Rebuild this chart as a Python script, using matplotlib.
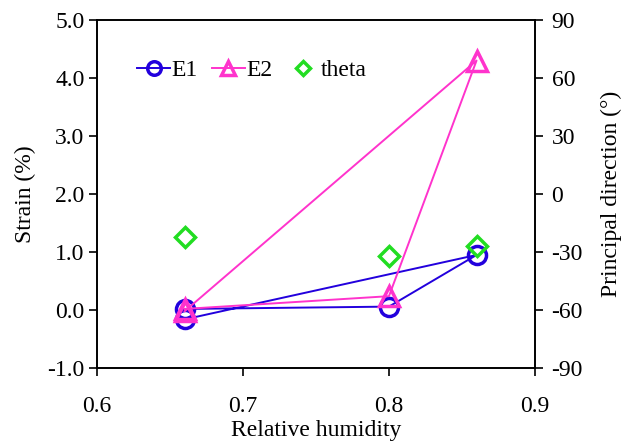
import matplotlib
matplotlib.use("Agg")
import matplotlib.pyplot as plt

plt.rcParams["font.family"] = ["Liberation Serif", "DejaVu Serif"]
plt.rcParams["font.size"] = 17
plt.rcParams["axes.unicode_minus"] = False

# data, in measurement order (0.66 measured twice)
rh = [0.66, 0.80, 0.86, 0.66]
e1 = [0.02, 0.06, 0.95, -0.16]
e2 = [0.02, 0.24, 4.30, -0.02]
rh_theta = [0.66, 0.80, 0.86]
theta = [-22, -32, -27]

BLUE = "#2200dd"
PINK = "#ff33cc"
GREEN = "#22dd22"

fig = plt.figure(figsize=(6.22, 4.43), dpi=100)
ax = fig.add_axes([0.156, 0.169, 0.704, 0.786])
ax2 = ax.twinx()

l1, = ax.plot(rh, e1, color=BLUE, lw=1.4, marker="o", ms=13, mfc="none",
              mew=2.5, label="E1", zorder=3)
l2, = ax.plot(rh, e2, color=PINK, lw=1.4, marker="^", ms=14, mfc="none",
              mew=2.5, label="E2", zorder=4)
l3, = ax2.plot(rh_theta, theta, ls="none", color=GREEN, marker="D", ms=10,
               mfc="none", mew=2.5, label="theta")

ax.set_xlim(0.6, 0.9)
ax.set_ylim(-1.0, 5.0)
ax2.set_ylim(-90, 90)
ax.set_xticks([0.6, 0.7, 0.8, 0.9])
ax.set_xticklabels(["0.6", "0.7", "0.8", "0.9"])
ax.set_yticks([-1, 0, 1, 2, 3, 4, 5])
ax.set_yticklabels([f"{v:.1f}" for v in [-1, 0, 1, 2, 3, 4, 5]])
ax2.set_yticks([-90, -60, -30, 0, 30, 60, 90])

ax.tick_params(axis="x", direction="out", length=6, width=1.2, pad=14)
ax.tick_params(axis="y", direction="out", length=6, width=1.2, pad=3)
ax2.tick_params(axis="y", direction="out", length=6, width=1.2, pad=6)
for a in (ax, ax2):
    for sp in a.spines.values():
        sp.set_linewidth(1.2)

ax.set_xlabel("Relative humidity", labelpad=2)
ax.set_ylabel("Strain (%)", labelpad=8)
ax2.set_ylabel("Principal direction (°)", labelpad=13)

leg = ax.legend(handles=[l1, l2, l3], loc="center left", bbox_to_anchor=(0.07, 0.856),
                ncol=3, frameon=False, markerscale=0.75, handlelength=1.4,
                handletextpad=0.05, columnspacing=0.6, borderaxespad=0)

fig.savefig("out.png", dpi=100)
